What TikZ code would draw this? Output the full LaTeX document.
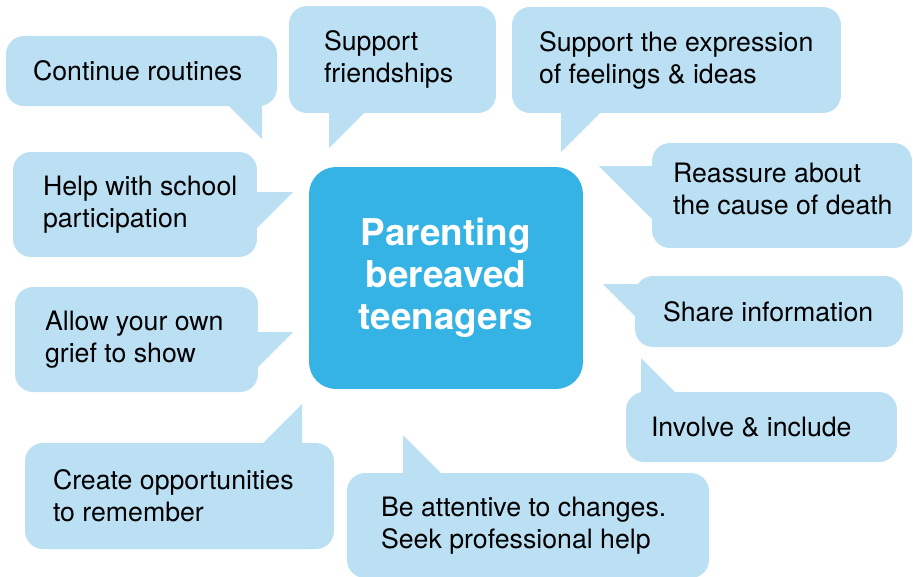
\documentclass[tikz,border=0pt]{standalone}
\usepackage{fontspec}
\setmainfont{TeX Gyre Heros}
\definecolor{hubblue}{RGB}{53,179,228}
\definecolor{bubbleblue}{RGB}{187,223,243}
\tikzset{
  bubble/.style={fill=bubbleblue, rounded corners=0.36cm, inner sep=0pt},
  tail/.style={fill=bubbleblue},
  saying/.style={anchor=west, align=left, inner sep=0pt,
    font=\fontsize{15.2}{18.2}\selectfont},
  hub/.style={fill=hubblue, rounded corners=0.54cm, text=white, align=center,
    minimum width=5.48cm, minimum height=4.44cm,
    font=\fontsize{21}{23.8}\selectfont\bfseries}
}
\begin{document}
\begin{tikzpicture}[x=0.02cm, y=-0.02cm]
      \useasboundingbox (0,0) rectangle (913,576);
%
      \fill[tail] (223,100) -- (262,139) -- (262,100) -- cycle;
      \fill[tail] (329,105) -- (329,148) -- (372,105) -- cycle;
      \fill[tail] (561,105) -- (561,152) -- (608,105) -- cycle;
      \fill[tail] (599,166) -- (660,166) -- (660,227) -- cycle;
      \fill[tail] (293,192) -- (250,192) -- (250,235) -- cycle;
      \fill[tail] (293,332) -- (250,332) -- (250,375) -- cycle;
      \fill[tail] (603,284) -- (643,284) -- (643,324) -- cycle;
      \fill[tail] (641,358) -- (641,400) -- (683,400) -- cycle;
      \fill[tail] (302,404) -- (302,451) -- (255,451) -- cycle;
      \fill[tail] (403,435) -- (403,481) -- (449,481) -- cycle;
%
      \node[bubble, minimum width=5.42cm, minimum height=1.40cm] (routines) at (141.5,71) {};
      \node[bubble, minimum width=4.14cm, minimum height=2.14cm] (friends) at (392.5,59.5) {};
      \node[bubble, minimum width=6.58cm, minimum height=2.12cm] (feelings) at (676.5,60) {};
      \node[bubble, minimum width=5.20cm, minimum height=2.10cm] (cause) at (782,195.5) {};
      \node[bubble, minimum width=4.88cm, minimum height=2.10cm] (school) at (135,204.5) {};
      \node[bubble, minimum width=4.86cm, minimum height=2.10cm] (grief) at (136.5,339.5) {};
      \node[bubble, minimum width=5.36cm, minimum height=1.42cm] (share) at (769,311.5) {};
      \node[bubble, minimum width=5.42cm, minimum height=1.40cm] (involve) at (761.5,427) {};
      \node[bubble, minimum width=6.18cm, minimum height=2.12cm] (remember) at (179.5,496) {};
      \node[bubble, minimum width=7.24cm, minimum height=2.10cm] (changes) at (528,525.5) {};
%
      \node[saying] (routinestext) at ([xshift=0.54cm]routines.west) {Continue routines};
      \node[saying] (friendstext) at ([xshift=0.70cm]friends.west) {Support\\friendships};
      \node[saying] (feelingstext) at ([xshift=0.54cm]feelings.west) {Support the expression\\of feelings \& ideas};
      \node[saying] (causetext) at ([xshift=0.42cm,yshift=0.14cm]cause.west) {Reassure about\\the cause of death};
      \node[saying] (schooltext) at ([xshift=0.60cm]school.west) {Help with school\\participation};
      \node[saying] (grieftext) at ([xshift=0.60cm]grief.west) {Allow your own\\grief to show};
      \node[saying] (sharetext) at ([xshift=0.56cm]share.west) {Share information};
      \node[saying] (involvetext) at ([xshift=0.50cm]involve.west) {Involve \& include};
      \node[saying] (remembertext) at ([xshift=0.56cm]remember.west) {Create opportunities\\to remember};
      \node[saying] (changestext) at ([xshift=0.68cm]changes.west) {Be attentive to changes.\\Seek professional help};
%
      \node[hub] (parenting) at (446,278) {Parenting\\bereaved\\teenagers};
%
      \end{tikzpicture}
\end{document}
